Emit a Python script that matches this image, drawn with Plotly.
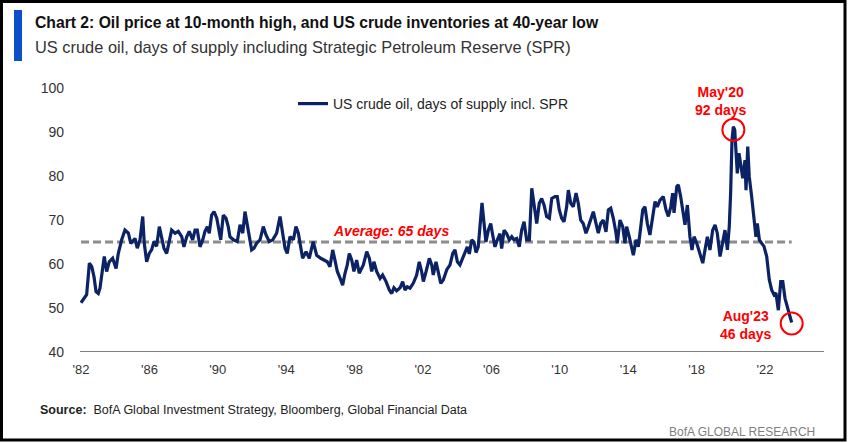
import plotly.graph_objects as go

# ---- data ----
years = [
    1982.00, 1982.13, 1982.33, 1982.49, 1982.63, 1982.76, 1982.88, 1983.01, 1983.11, 1983.36,
    1983.50, 1983.65, 1983.85, 1984.05, 1984.18, 1984.38, 1984.57, 1984.77, 1984.91, 1985.16,
    1985.29, 1985.45, 1985.61, 1985.70, 1985.84, 1985.99, 1986.13, 1986.27, 1986.42, 1986.58,
    1986.72, 1986.85, 1987.01, 1987.16, 1987.30, 1987.50, 1987.69, 1987.89, 1988.02, 1988.18,
    1988.33, 1988.53, 1988.67, 1988.80, 1988.96, 1989.12, 1989.25, 1989.39, 1989.50, 1989.64,
    1989.78, 1989.94, 1990.09, 1990.17, 1990.32, 1990.48, 1990.61, 1990.71, 1990.91, 1991.14,
    1991.30, 1991.46, 1991.59, 1991.73, 1991.84, 1991.98, 1992.12, 1992.27, 1992.47, 1992.66,
    1992.82, 1993.01, 1993.21, 1993.44, 1993.64, 1993.80, 1993.93, 1994.06, 1994.22, 1994.42,
    1994.57, 1994.71, 1994.85, 1994.96, 1995.16, 1995.35, 1995.58, 1995.78, 1996.02, 1996.21,
    1996.40, 1996.56, 1996.72, 1996.85, 1996.99, 1997.19, 1997.30, 1997.44, 1997.57, 1997.69,
    1997.83, 1997.96, 1998.12, 1998.27, 1998.51, 1998.71, 1998.86, 1999.00, 1999.13, 1999.29,
    1999.49, 1999.64, 1999.84, 2000.03, 2000.17, 2000.30, 2000.46, 2000.66, 2000.81, 2000.95,
    2001.08, 2001.24, 2001.43, 2001.63, 2001.78, 2001.92, 2002.02, 2002.18, 2002.37, 2002.51,
    2002.60, 2002.76, 2002.89, 2003.04, 2003.19, 2003.39, 2003.58, 2003.74, 2003.87, 2004.01,
    2004.16, 2004.46, 2004.59, 2004.71, 2004.85, 2004.98, 2005.10, 2005.23, 2005.37, 2005.45,
    2005.57, 2005.68, 2005.82, 2005.96, 2006.08, 2006.21, 2006.35, 2006.50, 2006.60, 2006.74,
    2006.89, 2007.05, 2007.19, 2007.32, 2007.48, 2007.63, 2007.77, 2007.91, 2008.06, 2008.22,
    2008.36, 2008.49, 2008.65, 2008.80, 2008.94, 2009.08, 2009.23, 2009.39, 2009.53, 2009.72,
    2009.85, 2009.97, 2010.11, 2010.25, 2010.40, 2010.50, 2010.64, 2010.79, 2010.95, 2011.08,
    2011.22, 2011.37, 2011.53, 2011.67, 2011.81, 2011.96, 2012.12, 2012.25, 2012.39, 2012.54,
    2012.70, 2012.84, 2012.98, 2013.13, 2013.29, 2013.36, 2013.52, 2013.68, 2013.81, 2013.91,
    2014.06, 2014.20, 2014.30, 2014.46, 2014.59, 2014.69, 2014.85, 2014.98, 2015.12, 2015.27,
    2015.43, 2015.57, 2015.70, 2015.86, 2016.05, 2016.21, 2016.35, 2016.49, 2016.60, 2016.68,
    2016.84, 2016.93, 2017.07, 2017.19, 2017.32, 2017.46, 2017.61, 2017.73, 2017.85, 2018.01,
    2018.20, 2018.36, 2018.49, 2018.63, 2018.78, 2018.94, 2019.08, 2019.21, 2019.37, 2019.53,
    2019.66, 2019.80, 2019.91, 2019.99, 2020.07, 2020.15, 2020.23, 2020.30, 2020.38, 2020.48,
    2020.58, 2020.70, 2020.83, 2020.89, 2020.99, 2021.08, 2021.22, 2021.36, 2021.47, 2021.55,
    2021.67, 2021.81, 2021.94, 2022.10, 2022.25, 2022.39, 2022.53, 2022.64, 2022.78, 2022.92,
    2023.04, 2023.17, 2023.30, 2023.46, 2023.56,
]

days_of_supply = [
    51.2, 51.8, 53.0, 60.2, 59.4, 57.1, 53.7, 53.3, 54.5, 61.7,
    58.3, 60.5, 61.3, 59.0, 62.4, 65.5, 67.7, 67.0, 64.7, 65.8,
    63.6, 65.5, 70.8, 64.7, 60.5, 62.4, 63.2, 65.1, 64.0, 68.5,
    65.5, 63.6, 62.4, 65.5, 67.7, 67.0, 67.4, 66.2, 63.9, 66.2,
    67.4, 65.5, 67.7, 67.7, 63.9, 65.5, 67.4, 68.5, 67.0, 71.1,
    71.9, 70.4, 67.0, 65.5, 71.1, 70.4, 68.5, 66.2, 65.5, 65.1,
    68.9, 67.0, 71.9, 68.5, 66.2, 63.2, 63.6, 64.7, 65.5, 68.5,
    66.6, 65.1, 65.5, 67.0, 70.8, 66.2, 63.6, 62.4, 66.2, 65.5,
    68.5, 67.0, 63.2, 61.3, 62.8, 61.3, 65.1, 62.0, 61.3, 60.9,
    60.5, 59.4, 63.2, 60.9, 58.3, 56.4, 55.2, 57.9, 59.8, 62.4,
    60.9, 58.3, 60.9, 57.9, 59.8, 62.8, 61.3, 58.3, 60.5, 58.3,
    56.7, 57.5, 56.0, 54.1, 53.3, 54.6, 53.9, 54.6, 56.0, 54.1,
    54.8, 54.5, 55.6, 57.5, 60.5, 58.3, 56.0, 58.3, 61.3, 59.8,
    57.5, 60.5, 58.3, 55.6, 56.4, 58.7, 59.8, 62.4, 63.2, 60.5,
    59.8, 62.4, 63.9, 62.3, 65.5, 65.0, 62.6, 63.9, 69.2, 73.9,
    69.2, 65.0, 67.7, 69.2, 66.5, 63.9, 65.5, 66.9, 63.5, 67.7,
    66.9, 65.5, 66.2, 65.5, 65.8, 63.9, 67.7, 69.6, 65.5, 65.5,
    77.2, 73.0, 69.2, 73.8, 74.9, 73.4, 70.8, 70.4, 74.9, 75.3,
    75.3, 72.3, 70.4, 69.6, 73.0, 76.8, 73.8, 73.0, 76.1, 73.8,
    70.0, 69.2, 67.0, 68.5, 70.4, 71.9, 69.2, 67.0, 69.2, 70.0,
    67.3, 72.3, 72.7, 70.4, 67.0, 64.7, 70.0, 68.5, 64.7, 68.5,
    66.2, 63.9, 62.0, 65.5, 63.9, 67.0, 72.3, 73.0, 69.2, 66.6,
    71.0, 74.2, 73.0, 74.5, 75.3, 72.3, 70.8, 73.0, 76.1, 71.6,
    77.6, 78.0, 75.3, 71.6, 68.9, 73.4, 66.2, 63.2, 66.2, 64.7,
    62.4, 60.2, 63.2, 66.2, 63.2, 67.7, 68.9, 67.0, 61.7, 64.7,
    67.7, 63.2, 68.5, 76.1, 88.2, 91.2, 90.5, 85.9, 80.6, 85.2,
    82.2, 79.5, 83.6, 76.8, 86.7, 79.8, 75.3, 70.8, 66.2, 69.2,
    65.5, 64.7, 64.0, 61.7, 56.4, 54.1, 53.0, 53.4, 49.5, 56.0,
    56.0, 52.2, 50.3, 48.0, 46.7,
]

average_days = 65
tick_years = [1982, 1986, 1990, 1994, 1998, 2002, 2006, 2010, 2014, 2018, 2022]
tick_labels = ["'82", "'86", "'90", "'94", "'98", "'02", "'06", "'10", "'14", "'18", "'22"]
y_ticks = [40, 50, 60, 70, 80, 90, 100]

series_name = "US crude oil, days of supply incl. SPR"
title_text = "Chart 2: Oil price at 10-month high, and US crude inventories at 40-year low"
subtitle_text = "US crude oil, days of supply including Strategic Petroleum Reserve (SPR)"
avg_label = "Average: 65 days"
peak_label = "May'20<br>92 days"
last_label = "Aug'23<br>46 days"
source_text = "<b>Source:</b>  BofA Global Investment Strategy, Bloomberg, Global Financial Data"
brand_text = "BofA GLOBAL RESEARCH"

# ---- styling ----
FONT = "Liberation Sans, Arial, sans-serif"
NAVY = "#0B2265"
RED = "#FF0000"
GREY = "#8C8C8C"
W, H = 848, 443
L, R, T, B = 80, 24, 88, 91
pw, ph = W - L - R, H - T - B

def px(x):
    return (x - L) / pw

def py(y):
    return (H - B - y) / ph

i_peak = max(range(len(days_of_supply)), key=lambda i: days_of_supply[i])
i_last = len(days_of_supply) - 1

fig = go.Figure()
fig.add_trace(go.Scatter(
    x=[years[0], years[-1]], y=[average_days, average_days], mode="lines",
    line=dict(color=GREY, width=3, dash="8px,4px"), showlegend=False, hoverinfo="skip"))
fig.add_trace(go.Scatter(
    x=years, y=days_of_supply, mode="lines", name=series_name,
    line=dict(color=NAVY, width=3.2)))

fig.update_layout(
    width=W, height=H,
    margin=dict(l=L, r=R, t=T, b=B),
    paper_bgcolor="white", plot_bgcolor="white",
    font=dict(family=FONT, color="#333333"),
    legend=dict(x=px(293), y=py(88), xanchor="left", yanchor="top",
                font=dict(size=14, color="#222222", family=FONT),
                bgcolor="rgba(0,0,0,0)", itemwidth=30),
    xaxis=dict(range=[1982 - 1 / 17.1, 1982 + (pw - 1) / 17.1],
               tickvals=tick_years, ticktext=tick_labels,
               showgrid=False, zeroline=False, showline=False,
               ticks="", tickfont=dict(size=13, color="#333333"),
               ticklabelstandoff=8),
    yaxis=dict(range=[40, 100], tickvals=y_ticks, showgrid=False, zeroline=False,
               showline=False, ticks="", tickfont=dict(size=14, color="#333333"),
               ticklabelstandoff=15),
)

# x axis baseline
fig.add_shape(type="line", xref="paper", yref="y", x0=0, x1=1, y0=40, y1=40,
              line=dict(color="#808080", width=2))

# circles around peak and last value
for i, (yl, yh) in ((i_peak, (-14, 8)), (i_last, (-12, 10))):
    fig.add_shape(type="circle", xref="x", yref="y", xsizemode="pixel", ysizemode="pixel",
                  xanchor=years[i], yanchor=days_of_supply[i],
                  x0=-11, x1=11, y0=yl, y1=yh, line=dict(color=RED, width=2))

# title bar and frame
fig.add_shape(type="rect", xref="paper", yref="paper", x0=px(14), x1=px(22), y0=py(61), y1=py(10),
              fillcolor="#0A50C8", line=dict(width=0))
fig.add_shape(type="rect", xref="paper", yref="paper", x0=px(1.5), x1=px(845), y0=py(440), y1=py(1.5),
              line=dict(color="black", width=3))

ann = [
    dict(text="<b>" + title_text + "</b>", x=px(33), y=py(22), xref="paper", yref="paper",
         xanchor="left", yanchor="middle", showarrow=False,
         font=dict(size=15.7, color="#111111", family=FONT)),
    dict(text=subtitle_text, x=px(33), y=py(47), xref="paper", yref="paper", xanchor="left",
         yanchor="middle", showarrow=False, font=dict(size=16.4, color="#333333", family=FONT)),
    dict(text="<b><i>" + avg_label + "</i></b>", x=2000.1, y=average_days, xref="x", yref="y",
         yshift=11, xanchor="center", yanchor="middle", showarrow=False,
         font=dict(size=14, color=RED, family=FONT)),
    dict(text="<b>" + peak_label + "</b>", x=years[i_peak], y=days_of_supply[i_peak], xref="x", yref="y",
         xshift=-12, yshift=7, xanchor="center", yanchor="bottom", showarrow=False,
         font=dict(size=14, color=RED, family=FONT)),
    dict(text="<b>" + last_label + "</b>", x=years[i_last], y=days_of_supply[i_last], xref="x", yref="y",
         xshift=-46, yshift=-2, xanchor="center", yanchor="middle", showarrow=False,
         font=dict(size=14, color=RED, family=FONT)),
    dict(text=source_text, x=px(38), y=py(410), xref="paper", yref="paper", xanchor="left",
         yanchor="middle", showarrow=False, font=dict(size=12.5, color="#222222", family=FONT)),
    dict(text=brand_text, x=px(817), y=py(432), xref="paper", yref="paper", xanchor="right",
         yanchor="middle", showarrow=False, font=dict(size=12, color="#7F7F7F", family=FONT)),
]
for a in ann:
    fig.add_annotation(**a)

fig.write_html("out.html", config={"displayModeBar": False},
               post_script="document.body.style.margin='0px';document.body.style.overflow='hidden';")
